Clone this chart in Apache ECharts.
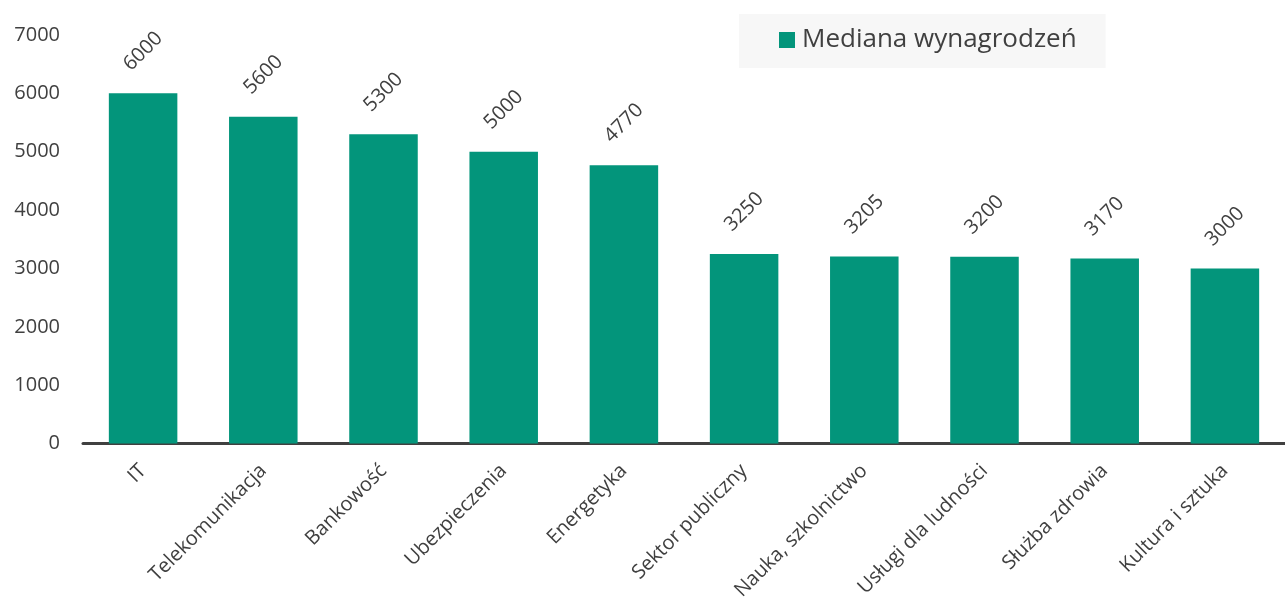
<!DOCTYPE html>
<html>
<head>
<meta charset="utf-8">
<script src="https://cdn.jsdelivr.net/npm/echarts@6/dist/echarts.min.js"></script>
<style>
  html, body { margin: 0; padding: 0; background: #fff; }
  #chart { width: 1285px; height: 603px; }
</style>
</head>
<body>
<div id="chart"></div>
<script>
// dane z wykresu
const categories = ['IT', 'Telekomunikacja', 'Bankowość', 'Ubezpieczenia', 'Energetyka',
  'Sektor publiczny', 'Nauka, szkolnictwo', 'Usługi dla ludności', 'Służba zdrowia', 'Kultura i sztuka']
const medianValues = [6000, 5600, 5300, 5000, 4770, 3250, 3205, 3200, 3170, 3000]
const seriesName = 'Mediana wynagrodzeń'

const textColor = '#404040'
const barColor = '#03957b'
const font = 'Open Sans'

const chart = echarts.init(document.getElementById('chart'))

chart.setOption({
  animation: false,
  backgroundColor: '#ffffff',
  textStyle: { fontFamily: font },
  grid: {
    left: 83,
    right: 0,
    top: 35,
    bottom: 159
  },
  legend: {
    left: 739,
    top: 14,
    padding: [13, 29, 15, 40],
    backgroundColor: '#f7f7f7',
    icon: 'rect',
    itemWidth: 16,
    itemHeight: 16,
    itemGap: 8,
    textStyle: {
      fontFamily: font,
      fontSize: 26,
      color: textColor,
      padding: [0, 0, 0, 2]
    },
    data: [seriesName]
  },
  xAxis: {
    type: 'category',
    data: categories,
    axisLine: { lineStyle: { color: textColor, width: 3 } },
    axisTick: { show: false },
    axisLabel: {
      rotate: 45,
      interval: 0,
      margin: 24,
      padding: [0, 0, 0, 0],
      fontFamily: font,
      fontSize: 20,
      color: textColor
    }
  },
  yAxis: {
    type: 'value',
    min: 0,
    max: 7000,
    interval: 1000,
    axisLine: { show: false },
    axisTick: { show: false },
    splitLine: { show: false },
    axisLabel: {
      margin: 23,
      fontFamily: font,
      fontSize: 20,
      color: textColor,
      formatter: (v) => String(v)
    }
  },
  series: [
    {
      name: seriesName,
      type: 'bar',
      data: medianValues,
      barWidth: '57%',
      itemStyle: { color: barColor },
      label: {
        show: true,
        position: 'top',
        distance: 42,
        rotate: 45,
        align: 'center',
        verticalAlign: 'middle',
        fontFamily: font,
        fontSize: 20,
        color: textColor
      }
    }
  ]
})
</script>
</body>
</html>
